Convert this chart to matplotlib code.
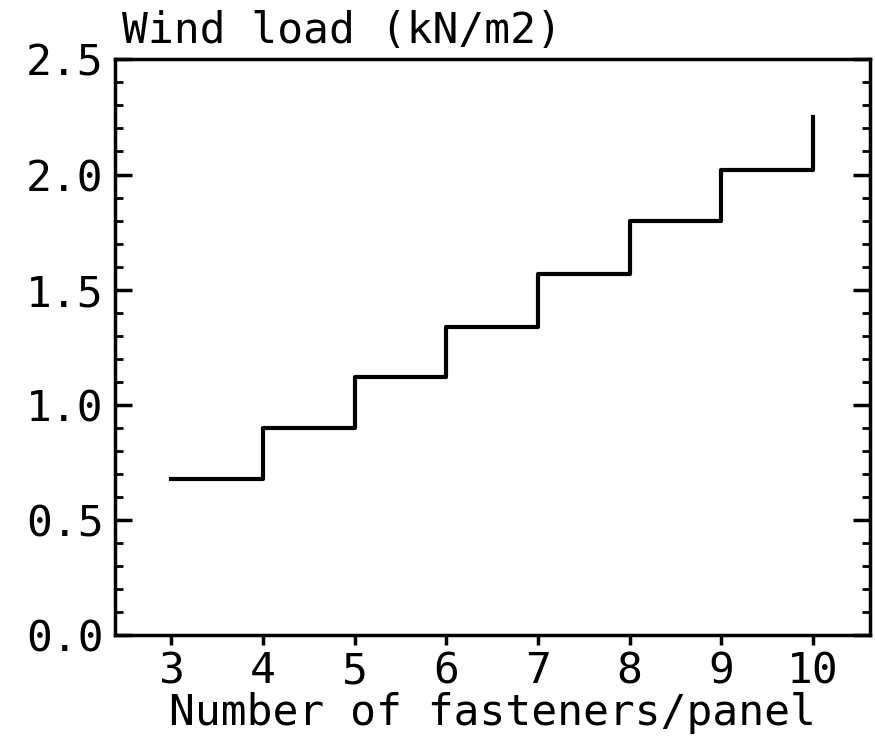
import matplotlib.pyplot as plt
from matplotlib.ticker import MultipleLocator

# number of fasteners per panel (step edges) and wind load levels
fasteners = [3, 4, 5, 6, 7, 8, 9, 10]
wind_load = [0.68, 0.90, 1.12, 1.34, 1.57, 1.80, 2.02, 2.25]
xticks = [3, 4, 5, 6, 7, 8, 9, 10]
yticks = [0.0, 0.5, 1.0, 1.5, 2.0, 2.5]

plt.rcParams['font.family'] = 'DejaVu Sans Mono'
FS = 31

fig = plt.figure(figsize=(8.75, 7.42), dpi=100)
ax = fig.add_axes([0.131, 0.144, 0.863, 0.776])

ax.step(fasteners, wind_load, where='post', color='black', linewidth=3)

ax.set_xlim(2.38, 10.62)
ax.set_ylim(0, 2.5)
ax.set_xticks(xticks)
ax.set_yticks(yticks)
ax.set_yticklabels(['%.1f' % v for v in yticks], fontsize=FS)
ax.set_xticklabels([str(v) for v in xticks], fontsize=FS)
ax.yaxis.set_minor_locator(MultipleLocator(0.1))

ax.tick_params(axis='y', which='major', direction='in', length=12, width=2.5,
               left=True, right=True, pad=8)
ax.tick_params(axis='y', which='minor', direction='in', length=6, width=2,
               left=True, right=True)
ax.tick_params(axis='x', which='major', direction='out', length=7, width=2.5,
               top=False, pad=4)

for s in ax.spines.values():
    s.set_linewidth(2.5)

ax.set_xlabel('Number of fasteners/panel', fontsize=FS, labelpad=0)
fig.text(0.139, 0.958, 'Wind load (kN/m2)', fontsize=FS, ha='left', va='center')

fig.savefig('out.png', dpi=100)
